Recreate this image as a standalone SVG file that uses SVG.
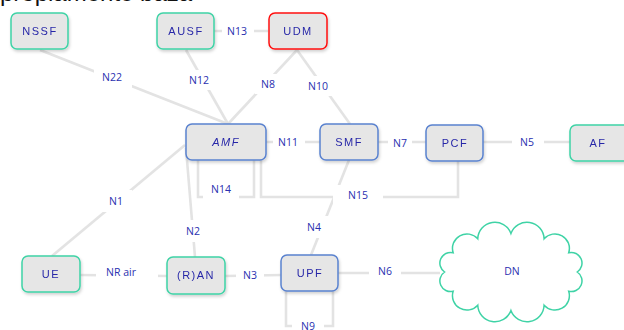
<svg xmlns="http://www.w3.org/2000/svg" width="624" height="330" viewBox="0 0 624 330">
<style>
.bg{fill:#ffffff}
.node rect{fill:#e6e6e6;stroke-width:1.5}
.t{stroke:#3fd3a6}
.b{stroke:#5a82cf}
.r{stroke:#ff1010;stroke-width:3}
.nl{font-family:"Liberation Sans",Arial,sans-serif;font-size:11px;fill:#2828a8;text-anchor:middle;dominant-baseline:central;letter-spacing:1.5px}
.el{font-family:"Open Sans","Liberation Sans",sans-serif;font-size:10.5px;fill:#2a30b0;text-anchor:middle;dominant-baseline:central}
.ln{fill:none;stroke:#e3e3e3;stroke-width:2.6}
.lb{fill:#ffffff}
</style>
<defs>
<filter id="sh" x="-20%" y="-20%" width="140%" height="150%">
<feDropShadow dx="1" dy="2" stdDeviation="1.5" flood-color="#000" flood-opacity="0.18"/>
</filter>
</defs>
<rect class="bg" x="0" y="0" width="624" height="330"/>
<text x="0" y="1" font-family="Liberation Sans,Arial,sans-serif" font-size="24" fill="#111">propiamente baza</text>
<g id="connectors">
<line class="ln" x1="40" y1="50" x2="228" y2="124"/>
<line class="ln" x1="186" y1="50" x2="228" y2="124"/>
<line class="ln" x1="297" y1="50" x2="228" y2="124"/>
<line class="ln" x1="297" y1="50" x2="350" y2="124"/>
<line class="ln" x1="214" y1="31" x2="268" y2="31"/>
<line class="ln" x1="266" y1="142" x2="320" y2="142"/>
<line class="ln" x1="378" y1="142" x2="426" y2="142"/>
<line class="ln" x1="483" y1="142" x2="570" y2="142"/>
<line class="ln" x1="185" y1="145" x2="52" y2="256"/>
<line class="ln" x1="186" y1="148" x2="195" y2="257"/>
<polyline class="ln" points="198,160 198,197 254,197 254,160"/>
<polyline class="ln" points="261,160 261,197 458,197 458,161"/>
<line class="ln" x1="349" y1="160" x2="311" y2="255"/>
<line class="ln" x1="80" y1="275" x2="167" y2="276"/>
<line class="ln" x1="225" y1="276" x2="281" y2="275"/>
<line class="ln" x1="338" y1="273" x2="440" y2="273"/>
<polyline class="ln" points="286,291 286,326 333,326 333,291"/>
<rect class="lb" x="94" y="66" width="38" height="22"/>
<text class="el" x="112" y="77">N22</text>
<rect class="lb" x="185" y="70" width="30" height="20"/>
<text class="el" x="199" y="80">N12</text>
<rect class="lb" x="255" y="74" width="26" height="20"/>
<text class="el" x="268" y="84">N8</text>
<rect class="lb" x="303" y="76" width="30" height="20"/>
<text class="el" x="318" y="86">N10</text>
<rect class="lb" x="222" y="22" width="32" height="18"/>
<text class="el" x="237" y="31">N13</text>
<rect class="lb" x="273" y="133" width="32" height="18"/>
<text class="el" x="288" y="142">N11</text>
<rect class="lb" x="388" y="134" width="24" height="18"/>
<text class="el" x="400" y="143">N7</text>
<rect class="lb" x="512" y="132" width="32" height="20"/>
<text class="el" x="527" y="142">N5</text>
<rect class="lb" x="100" y="190" width="32" height="22"/>
<text class="el" x="116" y="201">N1</text>
<rect class="lb" x="180" y="220" width="28" height="22"/>
<text class="el" x="193" y="231">N2</text>
<rect class="lb" x="203" y="180" width="36" height="19"/>
<text class="el" x="221" y="189">N14</text>
<rect class="lb" x="333" y="185" width="50" height="20"/>
<text class="el" x="358" y="195">N15</text>
<rect class="lb" x="300" y="216" width="28" height="22"/>
<text class="el" x="314" y="227">N4</text>
<rect class="lb" x="96" y="262" width="62" height="20"/>
<text class="el" x="121" y="272">NR air</text>
<rect class="lb" x="236" y="265" width="28" height="20"/>
<text class="el" x="250" y="275">N3</text>
<rect class="lb" x="369" y="261" width="32" height="20"/>
<text class="el" x="385" y="271">N6</text>
<rect class="lb" x="292" y="318" width="32" height="14"/>
<text class="el" x="308" y="326">N9</text>
</g>
<g id="NSSF" class="node" filter="url(#sh)"><rect class="t" x="11" y="13" width="57" height="36" rx="6"/><text class="nl" x="40" y="31">NSSF</text></g>
<g id="AUSF" class="node" filter="url(#sh)"><rect class="t" x="157" y="13" width="57" height="36" rx="6"/><text class="nl" x="186" y="31">AUSF</text></g>
<g id="UDM" class="node" filter="url(#sh)"><rect class="r" x="269" y="13" width="58" height="36" rx="6"/><text class="nl" x="298" y="31">UDM</text></g>
<g id="AMF" class="node" filter="url(#sh)"><rect class="b" x="186" y="124" width="80" height="36" rx="6"/><text class="nl" x="226" y="142" font-style="italic">AMF</text></g>
<g id="SMF" class="node" filter="url(#sh)"><rect class="b" x="320" y="124" width="58" height="36" rx="6"/><text class="nl" x="349" y="142">SMF</text></g>
<g id="PCF" class="node" filter="url(#sh)"><rect class="b" x="426" y="125" width="57" height="36" rx="6"/><text class="nl" x="455" y="143">PCF</text></g>
<g id="AF" class="node" filter="url(#sh)"><rect class="t" x="570" y="125" width="62" height="36" rx="6"/><text class="nl" x="598" y="143">AF</text></g>
<g id="UE" class="node" filter="url(#sh)"><rect class="t" x="22" y="256" width="58" height="36" rx="6"/><text class="nl" x="51" y="274">UE</text></g>
<g id="RAN" class="node" filter="url(#sh)"><rect class="t" x="167" y="257" width="58" height="37" rx="6"/><text class="nl" x="196" y="275">(R)AN</text></g>
<g id="UPF" class="node" filter="url(#sh)"><rect class="b" x="281" y="255" width="57" height="36" rx="6"/><text class="nl" x="310" y="273">UPF</text></g>
<g id="DN">
<path transform="translate(512,272) scale(1.07) translate(-512,-272)" d="M449,272 A10 10 0 0 1 457,254 A13.5 13.5 0 0 1 480,241 A16 16 0 0 1 511,236 A16 16 0 0 1 542,241 A13.5 13.5 0 0 1 565,254 A10 10 0 0 1 573,272 A10 10 0 0 1 565,290 A13.5 13.5 0 0 1 542,303 A16 16 0 0 1 511,308 A16 16 0 0 1 480,303 A13.5 13.5 0 0 1 457,290 A10 10 0 0 1 449,272 Z" fill="#ffffff" stroke="#3fd3a6" stroke-width="1.4"/>
<text class="el" x="512" y="271">DN</text>
</g>
</svg>
